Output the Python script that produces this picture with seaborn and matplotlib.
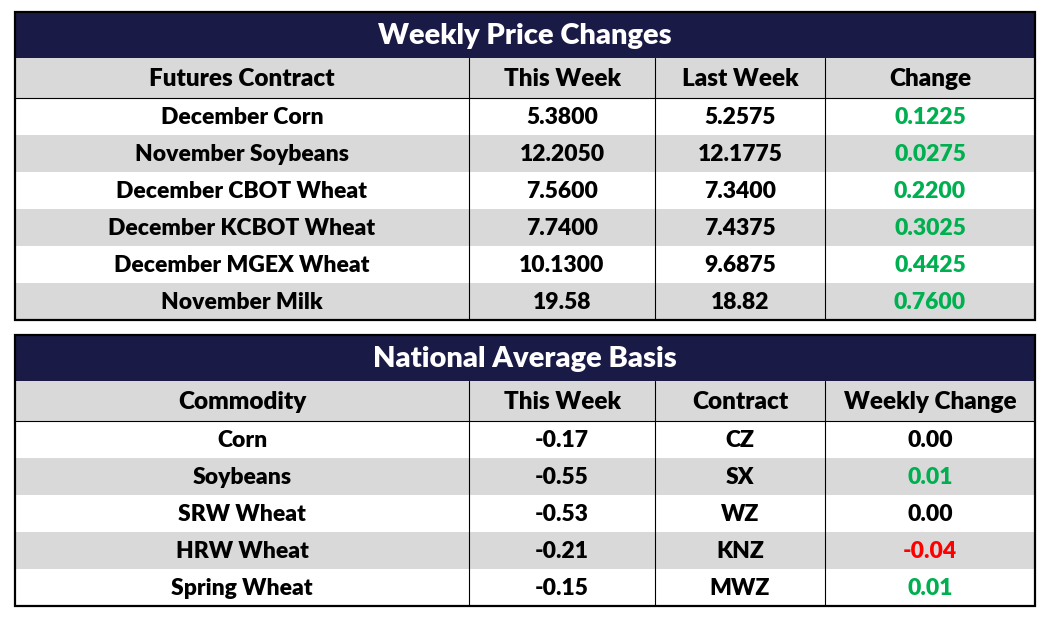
import matplotlib
matplotlib.use("Agg")
import matplotlib.pyplot as plt
from matplotlib.patches import Rectangle
import seaborn as sns

# Dados da tabela 1
futures = ["December Corn", "November Soybeans", "December CBOT Wheat",
           "December KCBOT Wheat", "December MGEX Wheat", "November Milk"]
fut_this_week = ["5.3800", "12.2050", "7.5600", "7.7400", "10.1300", "19.58"]
fut_last_week = ["5.2575", "12.1775", "7.3400", "7.4375", "9.6875", "18.82"]
fut_change = ["0.1225", "0.0275", "0.2200", "0.3025", "0.4425", "0.7600"]
fut_headers = ["Futures Contract", "This Week", "Last Week", "Change"]

# Dados da tabela 2
commodities = ["Corn", "Soybeans", "SRW Wheat", "HRW Wheat", "Spring Wheat"]
basis_this_week = ["-0.17", "-0.55", "-0.53", "-0.21", "-0.15"]
basis_contract = ["CZ", "SX", "WZ", "KNZ", "MWZ"]
basis_change = ["0.00", "0.01", "0.00", "-0.04", "0.01"]
basis_headers = ["Commodity", "This Week", "Contract", "Weekly Change"]

sns.set_theme(style="white")
plt.rcParams['font.family'] = ['Lato', 'DejaVu Sans']
plt.rcParams['text.color'] = 'black'

NAVY = "#1a1a46"
GRAY = "#d9d9d9"
GREEN = "#00b050"
RED = "#ff0000"
PESO = "heavy"

X_EDGES = [15, 469, 655, 825, 1035]
ROW_H = 37


def cor_variacao(txt):
    v = float(txt)
    if v > 0:
        return GREEN
    if v < 0:
        return RED
    return "black"


def desenhar_tabela(ax, top, title, headers, columns, change_col):
    left, right = X_EDGES[0], X_EDGES[-1]
    title_bottom = top + 46
    head_bottom = title_bottom + 40
    n = len(columns[0])
    bottom = head_bottom + n * ROW_H

    # faixa do título
    ax.add_patch(Rectangle((left, top), right - left, title_bottom - top,
                           facecolor=NAVY, edgecolor="none", zorder=1))
    ax.text((left + right) / 2, (top + title_bottom) / 2 + 1, title,
            color="white", fontsize=21, fontweight=PESO,
            ha="center", va="center", zorder=5)

    # cabeçalho
    ax.add_patch(Rectangle((left, title_bottom), right - left, head_bottom - title_bottom,
                           facecolor=GRAY, edgecolor="none", zorder=1))
    for j, h in enumerate(headers):
        cx = (X_EDGES[j] + X_EDGES[j + 1]) / 2
        ax.text(cx, (title_bottom + head_bottom) / 2 + 1, h, fontsize=17.5,
                fontweight=PESO, color="black", ha="center", va="center", zorder=5)

    # linhas alternadas
    for i in range(n):
        y0 = head_bottom + i * ROW_H
        if i % 2 == 1:
            ax.add_patch(Rectangle((left, y0), right - left, ROW_H,
                                   facecolor=GRAY, edgecolor="none", zorder=1))
        for j, col in enumerate(columns):
            cx = (X_EDGES[j] + X_EDGES[j + 1]) / 2
            color = cor_variacao(col[i]) if j == change_col else "black"
            ax.text(cx, y0 + ROW_H / 2 + 1, col[i], fontsize=16.5, fontweight=PESO,
                    color=color, ha="center", va="center", zorder=5)

    # grades
    ax.plot([left, right], [head_bottom, head_bottom], color="black", lw=0.8, zorder=3)
    for x in X_EDGES[1:-1]:
        ax.plot([x, x], [title_bottom, bottom], color="black", lw=0.8, zorder=3)
    ax.add_patch(Rectangle((left, top), right - left, bottom - top,
                           facecolor="none", edgecolor="black", lw=1.6, zorder=4))


fig = plt.figure(figsize=(10.5, 6.19), dpi=100)
ax = fig.add_axes([0, 0, 1, 1])
ax.set_xlim(0, 1050)
ax.set_ylim(619, 0)
ax.axis("off")

desenhar_tabela(ax, 12, "Weekly Price Changes", fut_headers,
                [futures, fut_this_week, fut_last_week, fut_change], 3)
desenhar_tabela(ax, 335, "National Average Basis", basis_headers,
                [commodities, basis_this_week, basis_contract, basis_change], 3)

fig.savefig("out.png", dpi=100, facecolor="white")
